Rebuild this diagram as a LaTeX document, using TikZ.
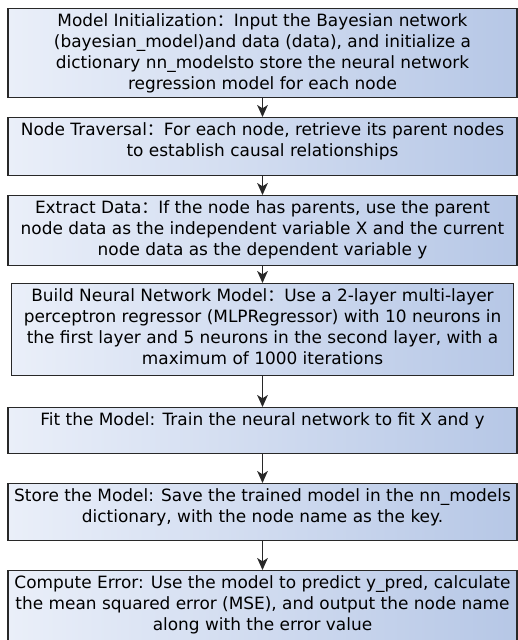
\documentclass[tikz,border=0pt]{standalone}
\usepackage{fontspec}
\setmainfont{DejaVu Sans}
\newfontfamily\cjk{Noto Sans CJK SC}
\usetikzlibrary{arrows.meta}

\definecolor{boxlight}{RGB}{234,239,249}
\definecolor{boxdark}{RGB}{182,199,230}
\definecolor{boxline}{RGB}{40,40,40}

\newcommand{\fwcolon}{{\cjk ：}}

\tikzset{
  stagebox/.style={draw=boxline, line width=1pt, left color=boxlight, right color=boxdark,
    anchor=north, minimum width=381.75pt, inner sep=0pt,
    align=center, font=\fontsize{12.7}{15.75}\selectfont},
  flow/.style={-{Stealth[length=9pt,width=8pt,inset=2.5pt]}, line width=0.8pt, boxline}
}

\begin{document}
\begin{tikzpicture}[x=0.75pt, y=-0.75pt]
%\draw[help lines] (0,0) grid[step=50] (518,640);
\useasboundingbox (0,0) rectangle (518,640);
\clip (0,0) rectangle (518,640);

 % text height = first baseline + lines below it, depth = rest of the box
 \node[stagebox, text height=60.75pt, text depth=6pt] (init) at (262.5,8)
   {Model Initialization\fwcolon Input the Bayesian network\\
    (bayesian\_model)and data (data), and initialize a\\
    dictionary nn\_modelsto store the neural network\\
    regression model for each node};

 \node[stagebox, text height=29.25pt, text depth=14.25pt] (traverse) at (262.5,117)
   {Node Traversal\fwcolon For each node, retrieve its parent nodes\\
    to establish causal relationships};

 \node[stagebox, text height=45pt, text depth=7.5pt] (extract) at (262.5,195)
   {Extract Data\fwcolon If the node has parents, use the parent\\
    node data as the independent variable X and the current\\
    node data as the dependent variable y};

 \node[stagebox, text height=60.75pt, text depth=8.25pt, minimum width=376.5pt] (build) at (262.5,283)
   {Build Neural Network Model\fwcolon Use a 2-layer multi-layer\\
    perceptron regressor (MLPRegressor) with 10 neurons in\\
    the first layer and 5 neurons in the second layer, with a\\
    maximum of 1000 iterations};

 \node[stagebox, text height=13.5pt, text depth=21pt] (fit) at (262.5,407)
   {Fit the Model: Train the neural network to fit X and y};

 \node[stagebox, text height=29.25pt, text depth=13.5pt] (store) at (262.5,483)
   {Store the Model: Save the trained model in the nn\_models\\
    dictionary, with the node name as the key.};

 \node[stagebox, text height=45pt, text depth=15pt] (error) at (262.5,570)
   {Compute Error: Use the model to predict y\_pred, calculate\\
    the mean squared error (MSE), and output the node name\\
    along with the error value};

 \draw[flow] (init.south) -- (traverse.north);
 \draw[flow] (traverse.south) -- (extract.north);
 \draw[flow] (extract.south) -- (build.north);
 \draw[flow] (build.south) -- (fit.north);
 \draw[flow] (fit.south) -- (store.north);
 \draw[flow] (store.south) -- (error.north);

\end{tikzpicture}
\end{document}
